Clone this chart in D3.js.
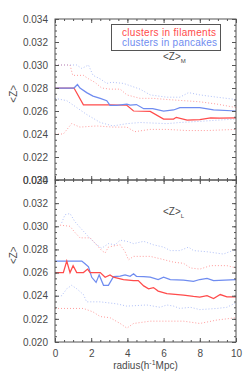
<!DOCTYPE html>
<html lang="en">
<head>
    <meta charset="UTF-8">
    <title>Z profiles</title>
    <style>
        body { margin: 0; background: #fff; }
        text { font-family: "Liberation Sans", Arial, sans-serif; fill: #4a4a4a; }
    </style>
</head>
<body>
    <div id="chart"></div>
    <script src="https://d3js.org/d3.v7.min.js"></script>
    <script>
        const [width, height] = [252, 378]

        // top panel, <Z>_M
        const redM_x = [0,1.05,1.57,3.04,3.97,4.34,5.26,6.0,6.55,6.7,7.3,8.0,8.6,9.1,10]
        const redM_y = [0.0280,0.0280,0.02653,0.02653,0.02650,0.02600,0.02597,0.02530,0.02530,0.02545,0.02520,0.02525,0.02540,0.02538,0.02540]
        const blueM_x = [0,1.05,1.24,1.38,1.75,2.1,2.5,2.86,3.04,3.4,3.97,4.15,4.5,4.9,5.4,6.0,6.55,6.9,8.0,8.76,10]
        const blueM_y = [0.0280,0.0280,0.0283,0.0280,0.0276,0.0273,0.0271,0.0269,0.0265,0.0265,0.0266,0.02652,0.02656,0.0262,0.0262,0.0260,0.02609,0.0263,0.0263,0.0261,0.0260]
        const redM_hi_x = [0,0.83,0.98,1.57,1.85,2.2,2.58,3.04,3.6,3.97,4.7,5.44,6.18,7.1,8.0,8.95,10]
        const redM_hi_y = [0.0300,0.0300,0.0291,0.0291,0.0288,0.0285,0.0280,0.0279,0.0279,0.0274,0.0271,0.0271,0.0270,0.0269,0.0268,0.0266,0.0263]
        const blueM_hi_x = [0,1.2,1.48,1.85,2.1,2.49,2.86,3.14,3.78,4.7,5.26,6.18,6.9,7.38,8.0,8.95,10]
        const blueM_hi_y = [0.0300,0.0300,0.0297,0.0300,0.0291,0.0288,0.0284,0.0285,0.0284,0.0279,0.0274,0.0272,0.0272,0.0276,0.0274,0.0272,0.0270]
        const blueM_lo_x = [0,0.65,1.2,1.75,2.5,3.2,3.97,4.7,6.18,6.9,8.0,8.95,10]
        const blueM_lo_y = [0.0271,0.0269,0.0263,0.0257,0.0250,0.0247,0.0249,0.0250,0.0249,0.0250,0.0251,0.0252,0.0253]
        const redM_lo_x = [0,0.46,0.92,1.38,2.3,3.2,3.97,4.4,5.26,6.18,7.3,8.4,10]
        const redM_lo_y = [0.0240,0.0240,0.0249,0.0246,0.0247,0.0246,0.0246,0.0242,0.0244,0.0244,0.0243,0.0243,0.0244]

        // bottom panel, <Z>_L
        const blueL_x = [0,1.48,1.66,1.85,2.03,2.27,2.44,2.68,2.95,3.23,3.6,3.87,4.15,4.34,4.5,4.9,5.26,5.7,6.0,6.37,7.1,7.65,8.0,8.4,8.76,10]
        const blueL_y = [0.0270,0.0270,0.02676,0.0265,0.02559,0.02515,0.0258,0.0249,0.0249,0.02565,0.0257,0.0258,0.02568,0.0259,0.02568,0.02565,0.0256,0.0254,0.0256,0.0254,0.02535,0.02524,0.0254,0.0255,0.0253,0.0254]
        const redL_x = [0,0.46,0.65,0.83,1.0,1.2,1.57,1.8,1.94,2.5,2.77,3.04,3.23,3.78,4.34,4.6,4.9,5.17,5.44,5.7,6.18,7.1,7.65,8.0,8.4,8.76,9.13,9.5,10]
        const redL_y = [0.0260,0.0260,0.0270,0.0260,0.0266,0.0260,0.0260,0.0263,0.0260,0.0260,0.0256,0.0258,0.0256,0.0254,0.0253,0.0253,0.02485,0.0246,0.0247,0.0244,0.02418,0.02406,0.02394,0.02388,0.0240,0.02376,0.0241,0.0239,0.0239]
        const redL_hi_x = [0.28,0.83,1.1,1.38,1.94,2.3,2.58,2.77,2.95,3.23,3.6,3.87,4.06,4.34,5.26,5.8,6.55,7.1,7.48,8.0,8.6,9.5,10]
        const redL_hi_y = [0.0301,0.0300,0.02947,0.0290,0.0290,0.0284,0.0279,0.0277,0.0282,0.0283,0.0284,0.0278,0.0271,0.0274,0.0274,0.0272,0.0269,0.0268,0.0264,0.0263,0.0266,0.0266,0.0264]
        const blueL_hi_x = [0.37,0.55,0.83,1.1,1.38,1.85,2.3,2.58,2.95,3.32,3.6,3.97,4.34,4.9,5.44,6.0,6.37,6.9,7.38,7.65,8.4,9.3,10]
        const blueL_hi_y = [0.0303,0.0310,0.0311,0.0304,0.0299,0.0291,0.0284,0.0281,0.0285,0.0284,0.0288,0.0287,0.0285,0.0287,0.0284,0.0282,0.0279,0.0279,0.0282,0.0279,0.0278,0.0276,0.0280]
        const blueL_lo_x = [0,0.37,0.65,0.92,1.2,1.57,1.75,2.5,3.4,3.97,5.07,5.8,6.18,6.55,6.9,7.48,8.0,8.95,9.5,10]
        const blueL_lo_y = [0.0239,0.0240,0.0246,0.0249,0.0246,0.0241,0.02347,0.02347,0.0233,0.0231,0.0232,0.0230,0.0232,0.0231,0.0229,0.0230,0.0228,0.0229,0.0230,0.0234]
        const redL_lo_x = [0,1.57,2.1,2.5,3.04,3.6,3.97,4.34,5.26,6.18,7.1,8.0,8.95,10]
        const redL_lo_y = [0.0229,0.0229,0.0226,0.0222,0.0221,0.0216,0.0212,0.0216,0.0218,0.0218,0.0218,0.0216,0.0219,0.0221]

        const yTicks = [0.020,0.022,0.024,0.026,0.028,0.030,0.032,0.034]
        const xTicks = [0,2,4,6,8,10]
        const legendLabels = ["clusters in filaments", "clusters in pancakes"]

        const red = "#ff4b4b", blue = "#6f8cf0", axisColor = "#555"
        const left = 55, right = 236

        var svg = d3.select('#chart').append("svg")
                .attr("width", width)
                .attr("height", height)

        var x = d3.scaleLinear().domain([0, 10]).range([left, right])

        const zip = (xs, ys) => xs.map((v, i) => [v, ys[i]])
        const minor = (a, b, step) => d3.range(Math.round((b - a) / step) + 1).map(i => a + i * step)

        function panel(top, bottom, series, showX, subLabel, subY) {
            var y = d3.scaleLinear().domain([0.020, 0.034]).range([bottom, top])
            var g = svg.append("g")

            var line = d3.line().x(d => x(d[0])).y(d => y(d[1]))
            series.forEach(s => {
                g.append("path")
                    .attr("d", line(zip(s.x, s.y)))
                    .attr("fill", "none")
                    .attr("stroke", s.color)
                    .attr("stroke-width", s.dotted ? 1 : 1.25)
                    .attr("stroke-opacity", s.dotted ? 0.55 : 1)
                    .attr("stroke-dasharray", s.dotted ? "1,2" : null)
            })

            // frame
            g.append("rect").attr("x", left).attr("y", top)
                .attr("width", right - left).attr("height", bottom - top)
                .attr("fill", "none").attr("stroke", axisColor).attr("stroke-width", 1)

            const yMinor = minor(0.020, 0.034, 0.0005)
            const xMinor = minor(0, 10, 0.5)
            const addAxis = (axis, tr) => {
                var a = g.append("g").attr("transform", tr).call(axis)
                a.select(".domain").remove()
                a.selectAll("line").attr("stroke", axisColor)
                a.selectAll("text").attr("fill", "#4a4a4a")
                    .style("font-family", '"Liberation Sans", Arial, sans-serif').style("font-size", "10px")
                return a
            }
            addAxis(d3.axisLeft(y).tickValues(yMinor).tickSize(-2).tickFormat(""), `translate(${left},0)`)
            addAxis(d3.axisRight(y).tickValues(yMinor).tickSize(-2).tickFormat(""), `translate(${right},0)`)
            addAxis(d3.axisLeft(y).tickValues(yTicks).tickSize(-4).tickPadding(7).tickFormat(d3.format(".3f")), `translate(${left},0)`)
            addAxis(d3.axisRight(y).tickValues(yTicks).tickSize(-4).tickFormat(""), `translate(${right},0)`)
            addAxis(d3.axisTop(x).tickValues(xMinor).tickSize(-2).tickFormat(""), `translate(0,${top})`)
            addAxis(d3.axisTop(x).tickValues(xTicks).tickSize(-4).tickFormat(""), `translate(0,${top})`)
            addAxis(d3.axisBottom(x).tickValues(xMinor).tickSize(-2).tickFormat(""), `translate(0,${bottom})`)
            addAxis(d3.axisBottom(x).tickValues(xTicks).tickSize(-4).tickPadding(8)
                .tickFormat(showX ? d3.format("d") : ""), `translate(0,${bottom})`)

            g.append("text")
                .attr("transform", `translate(17,${y(0.0275)}) rotate(-90)`)
                .attr("text-anchor", "middle")
                .style("font-size", "10px")
                .text("<Z>")

            var t = g.append("text").attr("x", 163).attr("y", subY).style("font-size", "10px")
            t.append("tspan").text("<Z>")
            t.append("tspan").attr("dy", 3).style("font-size", "6px").text(subLabel)
        }

        panel(19, 180, [
            {x: redM_hi_x, y: redM_hi_y, color: red, dotted: true},
            {x: redM_lo_x, y: redM_lo_y, color: red, dotted: true},
            {x: blueM_hi_x, y: blueM_hi_y, color: blue, dotted: true},
            {x: blueM_lo_x, y: blueM_lo_y, color: blue, dotted: true},
            {x: redM_x, y: redM_y, color: red},
            {x: blueM_x, y: blueM_y, color: blue}
        ], false, "M", 60)

        panel(180, 342, [
            {x: redL_hi_x, y: redL_hi_y, color: red, dotted: true},
            {x: redL_lo_x, y: redL_lo_y, color: red, dotted: true},
            {x: blueL_hi_x, y: blueL_hi_y, color: blue, dotted: true},
            {x: blueL_lo_x, y: blueL_lo_y, color: blue, dotted: true},
            {x: blueL_x, y: blueL_y, color: blue},
            {x: redL_x, y: redL_y, color: red}
        ], true, "L", 215)

        // legend
        svg.append("rect").attr("x", 111.5).attr("y", 24.5).attr("width", 109).attr("height", 26)
            .attr("fill", "#fff").attr("stroke", axisColor).attr("stroke-width", 1)
        legendLabels.forEach((l, i) => {
            svg.append("text").attr("x", 122).attr("y", 35.5 + i * 10.5)
                .attr("textLength", i === 0 ? 94 : 95).attr("lengthAdjust", "spacing")
                .style("font-size", "10px")
                .style("fill", i === 0 ? red : blue)
                .text(l)
        })

        // x label
        var xl = svg.append("text").attr("x", x(5)).attr("y", 369)
            .attr("text-anchor", "middle").style("font-size", "10px")
        xl.append("tspan").text("radius(h")
        xl.append("tspan").attr("dy", -4).style("font-size", "7px").text("-1")
        xl.append("tspan").attr("dy", 4).text("Mpc)")
    </script>
</body>
</html>
